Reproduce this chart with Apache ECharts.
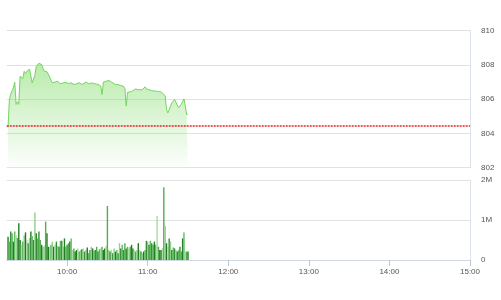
<!DOCTYPE html>
<html>
<head>
<meta charset="utf-8">
<script src="https://cdn.jsdelivr.net/npm/echarts@6/dist/echarts.min.js"></script>
<style>
html,body{margin:0;padding:0;background:#fff;}
#c{width:501px;height:300px;}
</style>
</head>
<body>
<div id="c"></div>
<script>
// Price (index) series: time of day and value
var priceTimes = ["9:16","9:17","9:18","9:19","9:20","9:21","9:22","9:23","9:24","9:25","9:26","9:27","9:28","9:29","9:30","9:31","9:32","9:33","9:34","9:35","9:36","9:37","9:38","9:39","9:40","9:41","9:42","9:43","9:44","9:45","9:46","9:47","9:48","9:49","9:50","9:51","9:52","9:53","9:54","9:55","9:57","9:59","10:01","10:03","10:05","10:07","10:09","10:11","10:12","10:14","10:16","10:18","10:19","10:21","10:23","10:25","10:26","10:27","10:29","10:31","10:33","10:34","10:36","10:38","10:40","10:42","10:43","10:44","10:45","10:46","10:48","10:49","10:51","10:53","10:54","10:56","10:58","10:59","11:00","11:03","11:05","11:08","11:10","11:11","11:13","11:14","11:15","11:16","11:18","11:20","11:21","11:23","11:24","11:25","11:27","11:28","11:29","11:30"];
var priceValues = [804.35,805.98,806.3,806.5,806.66,806.99,805.69,805.85,805.7,807.34,807.34,807.2,807.63,807.5,807.63,807.7,807.75,807.83,806.96,807.05,807.4,807.92,808.0,808.1,808.12,808.02,807.8,807.63,807.62,807.6,807.6,807.3,807.1,806.96,807.0,807.0,806.95,807.05,807.09,806.9,806.95,806.98,806.92,806.96,806.86,806.9,806.96,806.86,806.9,807.0,806.9,806.95,806.96,806.9,806.86,806.77,806.27,807.0,807.05,807.1,807.0,806.96,806.86,806.85,806.8,806.75,806.62,805.6,806.4,806.3,806.45,806.55,806.6,806.55,806.5,806.55,806.72,806.6,806.5,806.5,806.48,806.45,806.42,806.4,806.2,805.4,805.2,805.3,805.79,805.98,805.9,805.5,805.4,805.7,806.02,805.6,805.1,805.12];

// Volume per minute from 9:16 to 11:30 (millions)
var volStart = "9:16";
var volumeM = [
0.58,0.46,0.71,0.67,0.46,0.71,0.62,0.55,0.92,0.50,
0.38,0.46,0.62,0.69,0.50,0.42,0.55,0.71,0.60,0.50,
1.19,0.67,0.54,0.71,0.50,0.38,0.33,0.36,0.96,0.67,
0.33,0.33,0.38,0.46,0.33,0.38,0.46,0.35,0.33,0.48,
0.48,0.33,0.54,0.33,0.38,0.42,0.46,0.54,0.25,0.29,
0.21,0.25,0.29,0.21,0.25,0.27,0.29,0.21,0.25,0.31,
0.17,0.25,0.33,0.29,0.24,0.25,0.33,0.21,0.27,0.29,
0.33,0.25,0.29,0.35,1.35,0.25,0.21,0.25,0.17,0.29,
0.21,0.25,0.17,0.42,0.29,0.38,0.25,0.42,0.29,0.33,
0.29,0.33,0.38,0.29,0.25,0.21,0.25,0.42,0.25,0.21,
0.17,0.21,0.25,0.48,0.46,0.38,0.48,0.42,0.38,0.46,
0.38,1.10,0.33,0.25,0.25,0.30,1.82,0.85,0.42,0.33,
0.54,0.46,0.25,0.31,0.29,0.25,0.21,0.25,0.33,0.21,
0.54,0.69,0.21,0.21,0.21];

var refLevel = 804.43;
var timeLabels = ["10:00","11:00","12:00","13:00","14:00","15:00"];
var axisStart = "9:15", axisEnd = "15:00";
var priceTicks = [802, 804, 806, 808, 810];

function toMin(s){var p=s.split(":");return (+p[0])*60+(+p[1]);}
function fmtTime(m){var h=Math.floor(m/60),mm=m%60;return h+":"+(mm<10?"0":"")+mm;}

var priceData = priceTimes.map(function(t,i){return [toMin(t), priceValues[i]];});
var v0 = toMin(volStart);
var volData = volumeM.map(function(v,i){return [v0+i, v];});
var tickVals = timeLabels.map(toMin);
var shades = ['#237f23','#8fd08a','#4fae4f','#2f922f','#a8dca0','#5dbb5b','#1f7a1f'];

var chart = echarts.init(document.getElementById('c'), null, {renderer:'canvas'});
var gridLine = {show:true, lineStyle:{color:'#e2e2e2', width:1}};
chart.setOption({
  animation:false,
  backgroundColor:'#fff',
  grid:[
    {left:6.7, right:31, top:30.7, height:137},
    {left:6.7, right:31, top:180, height:80}
  ],
  xAxis:[
    {type:'value', gridIndex:0, min:toMin(axisStart), max:toMin(axisEnd),
     axisLine:{show:false}, axisTick:{show:false}, axisLabel:{show:false}, splitLine:{show:false}},
    {type:'value', gridIndex:1, min:toMin(axisStart), max:toMin(axisEnd),
     axisLine:{show:true, lineStyle:{color:'#cfd8e3', width:1}},
     axisTick:{show:true, length:6, customValues:tickVals, lineStyle:{color:'#b8c6d6'}},
     axisLabel:{show:true, customValues:tickVals, formatter:function(v){return fmtTime(v);},
       fontSize:8, color:'#555', margin:8, fontFamily:'Liberation Sans, Arial, sans-serif', showMinLabel:true, showMaxLabel:true},
     splitLine:{show:false}}
  ],
  yAxis:[
    {type:'value', gridIndex:0, position:'right', min:priceTicks[0], max:priceTicks[priceTicks.length-1], interval:2,
     axisLine:{show:true, lineStyle:{color:'#dde3ea'}}, axisTick:{show:false},
     axisLabel:{fontSize:8, color:'#555', margin:11, fontFamily:'Liberation Sans, Arial, sans-serif'},
     splitLine:gridLine},
    {type:'value', gridIndex:1, position:'right', min:0, max:2, interval:1,
     axisLine:{show:true, lineStyle:{color:'#dde3ea'}}, axisTick:{show:false},
     axisLabel:{fontSize:8, color:'#555', margin:11, fontFamily:'Liberation Sans, Arial, sans-serif',
       formatter:function(v){return v===0?'0':v+'M';}},
     splitLine:gridLine}
  ],
  series:[
    {type:'line', xAxisIndex:0, yAxisIndex:0, data:priceData, showSymbol:false, symbol:'none',
     lineStyle:{color:'#72d65e', width:1},
     areaStyle:{origin:'start', color:new echarts.graphic.LinearGradient(0,0,0,1,[
       {offset:0, color:'rgba(125,218,100,0.78)'},
       {offset:1, color:'rgba(125,218,100,0.02)'}])},
     markLine:{silent:true, symbol:'none', label:{show:false},
       lineStyle:{color:'#e8242a', type:[2,1], width:1.5},
       data:[{yAxis:refLevel}]}
    },
    {type:'bar', xAxisIndex:1, yAxisIndex:1, data:volData, barWidth:1.4,
     itemStyle:{color:function(p){return shades[(p.dataIndex*5+Math.floor(p.dataIndex/3))%shades.length];}}}
  ]
});
</script>
</body>
</html>
